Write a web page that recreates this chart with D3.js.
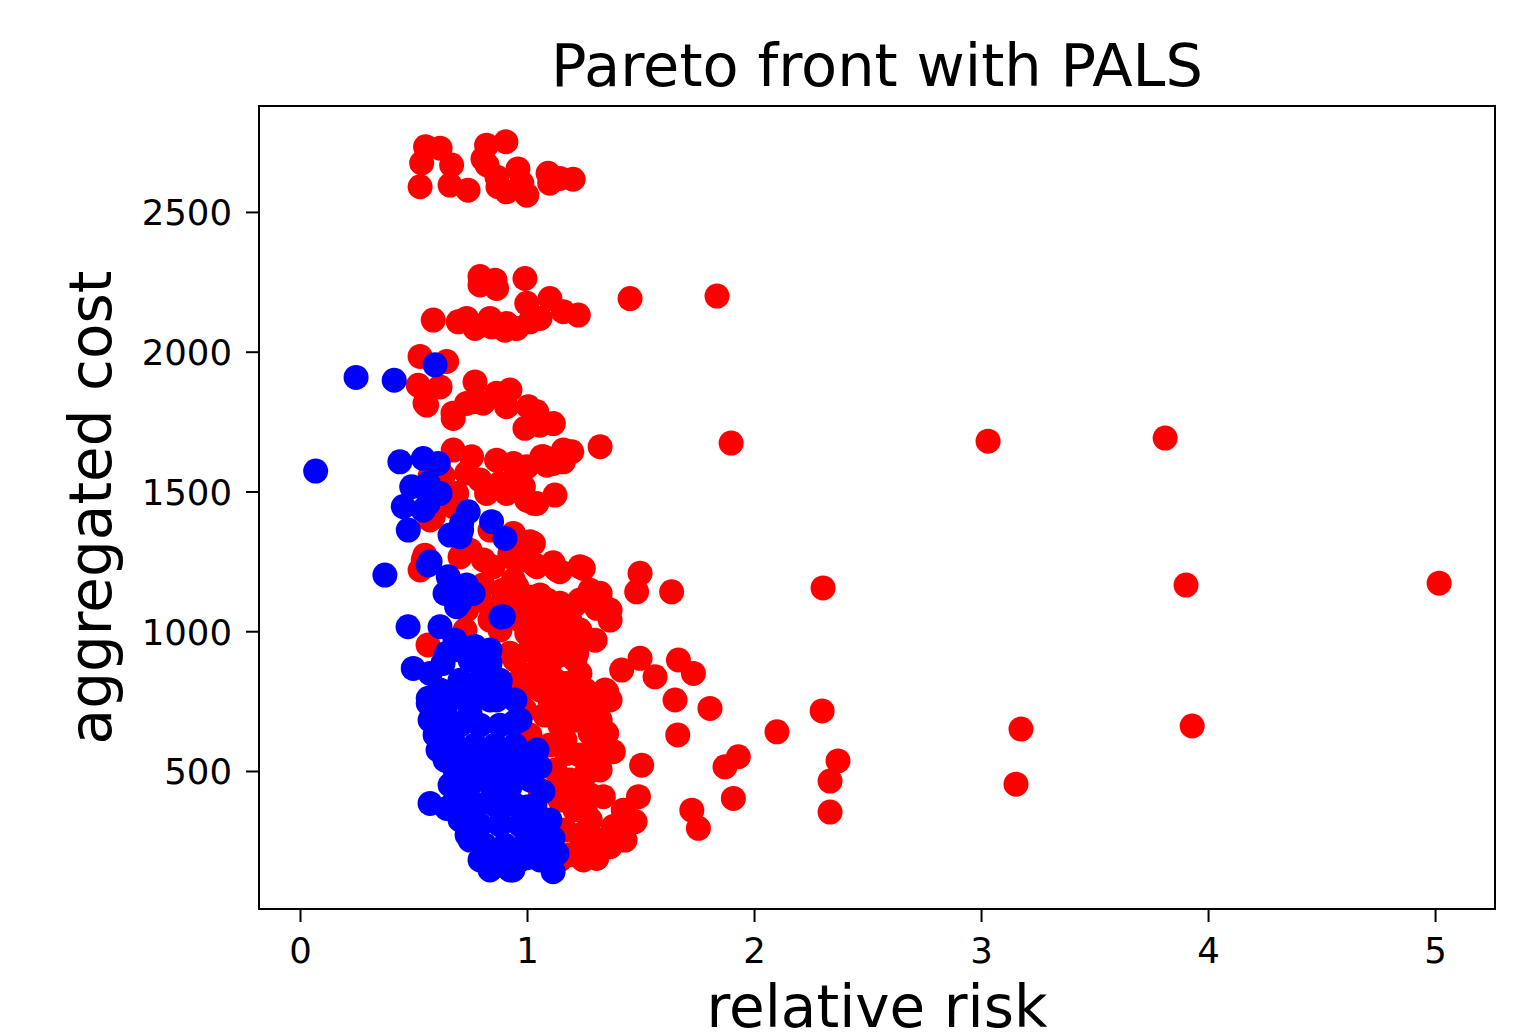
<!DOCTYPE html>
<html>
<head>
<meta charset="utf-8">
<script src="https://cdn.jsdelivr.net/npm/d3@7"></script>
<style>
  body { margin: 0; background: #fff; }
  text { font-family: "DejaVu Sans", sans-serif; }
</style>
</head>
<body>
<div id="chart"></div>
<script>
// all solutions found (relative risk, aggregated cost)
var allRisk = [
  0.553,0.617,0.536,0.668,0.529,0.661,0.740,0.822,0.907,0.806,0.872,0.910,0.960,0.999,0.977,1.093,1.145,1.203,1.100,0.868,0.824,
  0.793,0.793,0.859,0.866,0.991,0.999,1.101,1.160,1.226,1.057,1.013,0.587,0.697,0.734,0.771,0.837,0.844,0.910,0.903,0.955,1.454,1.837,
  0.529,0.646,0.521,0.617,0.551,0.771,0.674,0.558,0.675,0.764,0.866,0.925,0.910,1.006,1.043,0.991,1.057,1.116,0.734,0.806,
  0.675,0.756,0.866,0.940,0.999,1.072,1.160,1.197,1.160,1.087,1.322,0.573,0.734,0.793,0.881,0.940,0.984,0.690,0.822,0.910,0.999,1.028,1.123,0.587,0.675,1.065,1.116,0.631,1.043,1.899,3.031,3.811,
  0.573,0.837,0.940,1.013,0.749,0.705,0.808,0.925,0.984,1.043,1.131,1.233,0.543,1.028,0.550,
  0.925,1.035,1.145,1.248,1.498,1.483,1.637,0.955,1.057,1.145,1.233,1.322,1.307,1.366,1.087,1.101,0.999,0.529,0.850,0.940,1.013,1.088,1.000,1.088,1.180,1.115,1.278,2.304,3.903,5.018,
  0.564,0.727,0.881,0.734,0.837,0.806,0.894,0.880,0.960,0.793,
  0.925,1.219,1.175,1.233,1.351,1.417,1.498,1.564,1.667,1.733,1.652,1.806,1.028,1.101,1.175,1.263,1.278,0.969,1.664,1.505,1.491,1.476,1.432,1.366,1.307,1.248,1.351,1.380,1.322,1.336,1.424,1.380,1.278,1.248,1.219,1.175,1.204,1.278,1.872,1.931,1.909,1.726,1.755,2.101,2.300,3.176,3.930,3.154,2.370,2.335,2.335,
  0.947,1.013,1.079,1.145,1.211,0.969,1.057,1.123,1.189,1.256,0.991,1.079,1.145,1.211,1.278,1.013,1.101,1.167,1.233,1.300,1.035,1.123,1.189,1.256,1.057,1.145,1.211,1.278,1.079,1.167,1.233,1.101,1.189,1.013,0.991,1.145,1.322,1.366,1.344,1.300,1.366,1.233,0.969,1.057,1.278,1.322,1.211,1.123,
  1.300,1.322,1.278,1.322,1.123,1.145,1.233,1.256,1.057,1.145,1.211,1.101,1.167,1.278,1.123,1.189
];
var allCost = [
  2733,2728,2675,2668,2590,2596,2578,2739,2751,2690,2590,2572,2654,2560,2603,2638,2620,2617,2603,2624,2668,
  2269,2239,2256,2226,2262,2173,2190,2143,2131,2119,2107,2113,2107,2119,2083,2119,2089,2101,2077,2083,2190,2199,
  1983,1965,1880,1874,1816,1892,1780,1809,1761,1821,1851,1863,1803,1803,1785,1726,1737,1743,1815,1816,
  1648,1624,1612,1600,1588,1624,1648,1642,1606,1594,1660,1555,1566,1541,1529,1517,1517,1493,1493,1493,1469,1458,1487,1410,1446,1624,1600,1555,1457,1673,1680,1691,
  1398,1362,1350,1320,1290,1266,1255,1279,1255,1231,1219,1231,1255,1314,1272,
  1267,1237,1213,1225,1207,1141,1141,1160,1130,1100,1112,1136,1082,1076,1064,980,992,1219,1230,1183,1122,1112,1040,987,922,1245,1147,1155,1165,1172,
  951,1004,1004,1076,1040,1165,1147,1090,1090,1111,
  921,921,945,849,784,861,903,837,897,849,754,724,849,885,813,754,706,778,629,521,408,319,253,229,187,182,635,569,504,408,360,301,325,253,444,563,682,635,515,551,402,360,295,640,715,650,661,453,536,464,353,
  897,933,968,915,897,825,790,825,754,790,718,700,664,682,718,629,593,611,557,593,521,504,468,486,432,396,361,414,325,289,271,235,200,200,289,182,682,754,790,968,1040,1004,1040,1058,504,1111,1094,1076,
  754,539,325,253,289,468,432,361,897,968,968,754,700,647,1022,1040
];

// Pareto front found with PALS
var frontRisk = [
  0.247,0.415,0.595,
  0.069,0.440,0.543,0.609,0.492,0.565,0.617,0.455,0.543,0.477,0.741,0.712,0.661,0.844,0.903,0.573,0.653,0.374,0.705,0.565,0.712,
  0.565,0.734,0.639,0.705,0.763,0.896,0.476,0.617,0.690,0.885,
  0.771,0.705,0.646,0.499,0.573,0.630,0.822,0.881,0.565,0.690,0.793,0.866,0.947,0.646,0.749,0.778,0.837,0.881,0.940,0.630,0.624,0.565,
  0.617,0.692,0.573,0.646,0.736,0.837,0.837,0.938,1.115,1.132,1.115,1.101,1.070,1.057,1.044,0.881,0.780,0.806,0.925,1.000,0.881,1.026,0.780,0.956,0.850,0.925,1.000,0.608,0.692,
  0.661,0.749,0.837,0.705,0.793,0.881,0.683,0.771,0.859,0.947,0.727,0.815,0.903,0.991,0.749,0.837,0.925,1.013,0.771,0.859,0.947,1.035,0.793,0.881,0.969,1.057,0.815,0.903,0.991,1.079,0.881,0.969,1.057,
  0.617,0.595,0.639,0.661,0.683,0.705,0.749,0.793,0.617,0.573,0.705,0.793,0.881,0.947,0.969,0.749,0.837,0.683,0.727,0.683,1.057,1.101,0.925
];
var frontCost = [
  1908,1898,1953,
  1573,1606,1618,1600,1517,1529,1493,1446,1433,1362,1427,1362,1344,1392,1332,1249,1195,1201,1338,1457,1387,
  1237,1165,1135,1105,1135,1052,1016,1016,1088,1051,
  945,933,921,867,849,885,897,825,760,778,801,754,676,694,706,915,885,819,670,670,659,742,
  581,480,384,366,271,200,146,146,140,205,259,325,426,515,575,575,575,504,443,371,312,296,378,504,421,200,190,575,486,
  754,772,754,664,664,664,593,593,593,593,521,521,521,539,450,468,450,468,378,378,378,378,307,307,307,325,235,235,235,235,182,182,182,
  718,629,539,450,396,325,253,182,790,682,825,825,790,754,682,897,933,968,396,504,253,200,146
];

var xTicks = [0, 1, 2, 3, 4, 5];
var yTicks = [500, 1000, 1500, 2000, 2500];

// page and plot box, in pixels
var W = 1533, H = 1034;
var plot = {left: 259, top: 106, right: 1495, bottom: 909};
var r = 12.5;

var svg = d3.select("#chart").append("svg")
    .attr("width", W)
    .attr("height", H);

var x = d3.scaleLinear()
    .domain([-0.1806, 5.264])
    .range([plot.left, plot.right]);
var y = d3.scaleLinear()
    .domain([6.3, 2879])
    .range([plot.bottom, plot.top]);

function pairs(a, b) {
  return a.map(function(v, i) { return [v, b[i]]; });
}

// red: every solution, blue on top: the front
svg.append("g").selectAll("circle")
    .data(pairs(allRisk, allCost))
  .enter().append("circle")
    .attr("cx", function(d) { return x(d[0]); })
    .attr("cy", function(d) { return y(d[1]); })
    .attr("r", r)
    .attr("fill", "#ff0000");

svg.append("g").selectAll("circle")
    .data(pairs(frontRisk, frontCost))
  .enter().append("circle")
    .attr("cx", function(d) { return x(d[0]); })
    .attr("cy", function(d) { return y(d[1]); })
    .attr("r", r)
    .attr("fill", "#0000ff");

// x axis
var gx = svg.append("g")
    .attr("transform", "translate(0," + plot.bottom + ")")
    .call(d3.axisBottom(x).tickValues(xTicks).tickSize(13).tickSizeOuter(0)
      .tickFormat(d3.format("d")));
gx.select(".domain").remove();
gx.selectAll("line").attr("stroke", "#000").attr("stroke-width", 2);
gx.selectAll("text")
    .attr("y", 54).attr("dy", 0)
    .attr("font-size", 35.5).attr("font-family", "DejaVu Sans").attr("fill", "#000");

// y axis
var gy = svg.append("g")
    .attr("transform", "translate(" + plot.left + ",0)")
    .call(d3.axisLeft(y).tickValues(yTicks).tickSize(13).tickSizeOuter(0)
      .tickFormat(d3.format("d")));
gy.select(".domain").remove();
gy.selectAll("line").attr("stroke", "#000").attr("stroke-width", 2);
gy.selectAll("text")
    .attr("x", -27).attr("dy", "0.36em")
    .attr("font-size", 35.5).attr("font-family", "DejaVu Sans").attr("fill", "#000");

// frame
svg.append("rect")
    .attr("x", plot.left)
    .attr("y", plot.top)
    .attr("width", plot.right - plot.left)
    .attr("height", plot.bottom - plot.top)
    .attr("fill", "none")
    .attr("stroke", "#000")
    .attr("stroke-width", 2);

// title and labels
svg.append("text")
    .attr("x", (plot.left + plot.right) / 2)
    .attr("y", 86)
    .attr("text-anchor", "middle")
    .attr("font-size", 59)
    .text("Pareto front with PALS");

svg.append("text")
    .attr("x", (plot.left + plot.right) / 2)
    .attr("y", 1027)
    .attr("text-anchor", "middle")
    .attr("font-size", 58)
    .text("relative risk");

svg.append("text")
    .attr("transform", "translate(111," + (plot.top + plot.bottom) / 2 + ") rotate(-90)")
    .attr("text-anchor", "middle")
    .attr("font-size", 58)
    .text("aggregated cost");
</script>
</body>
</html>
